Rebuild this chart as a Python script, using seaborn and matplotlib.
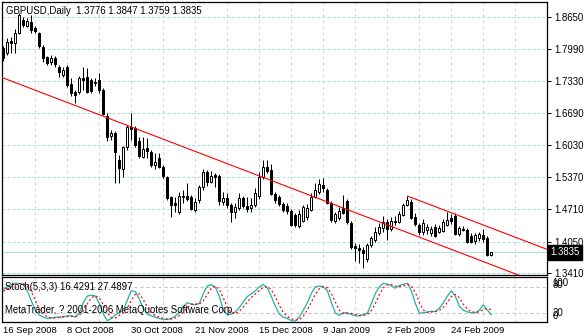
import numpy as np
import pandas as pd
import matplotlib
matplotlib.use("Agg")
import matplotlib.pyplot as plt
import matplotlib.transforms as mtransforms
import seaborn as sns

# ---------------------------------------------------------------- data
symbol_title = "GBPUSD,Daily"
copyright_text = "MetaTrader, ? 2001-2006 MetaQuotes Software Corp."
stoch_name = "Stoch(5,3,3)"

date_labels = ["16 Sep 2008", "8 Oct 2008", "30 Oct 2008", "21 Nov 2008",
               "15 Dec 2008", "9 Jan 2009", "2 Feb 2009", "24 Feb 2009"]
date_label_bars = [0, 16, 32, 48, 64, 80, 96, 112]

price_ticks = [1.8650, 1.7990, 1.7330, 1.6690, 1.6030, 1.5370, 1.4710, 1.4050, 1.3410]
price_tick_labels = ["1.8650", "1.7990", "1.7330", "1.6690", "1.6030",
                     "1.5370", "1.4710", "1.4050", "1.3410"]

open_ = [1.8015, 1.7913, 1.8159, 1.8118, 1.8322, 1.8589, 1.8466, 1.8548, 1.8425, 1.8322,
         1.8036, 1.7831, 1.7729, 1.7811, 1.7627, 1.7463, 1.7627, 1.7279, 1.7115, 1.7115,
         1.7401, 1.7422, 1.7360, 1.7319, 1.7360, 1.7156, 1.6623, 1.6214, 1.6275, 1.5723,
         1.5539, 1.5989, 1.6398, 1.6378, 1.6112, 1.5784, 1.5968, 1.5887, 1.5620, 1.5764,
         1.5579, 1.5375, 1.4965, 1.4843, 1.4658, 1.4965, 1.4986, 1.4965, 1.4699, 1.4904,
         1.5170, 1.5477, 1.5273, 1.5416, 1.5395, 1.4863, 1.4945, 1.4802, 1.4658, 1.4740,
         1.4945, 1.4781, 1.4740, 1.4802, 1.4986, 1.5375, 1.5579, 1.5518, 1.5027, 1.4965,
         1.4822, 1.4781, 1.4679, 1.4597, 1.4372, 1.4474, 1.4556, 1.4699, 1.4965, 1.5068,
         1.5211, 1.5109, 1.4843, 1.4474, 1.4536, 1.4740, 1.4884, 1.4433, 1.3962, 1.3921,
         1.3880, 1.3696, 1.3983, 1.4085, 1.4228, 1.4331, 1.4454, 1.4310, 1.4474, 1.4454,
         1.4597, 1.4802, 1.4863, 1.4556, 1.4392, 1.4249, 1.4290, 1.4228, 1.4351, 1.4249,
         1.4269, 1.4392, 1.4536, 1.4576, 1.4208, 1.4310, 1.4290, 1.4167, 1.4065, 1.4126,
         1.4188, 1.4126, 1.3776]
high = [1.8056, 1.8220, 1.8241, 1.8404, 1.8732, 1.8650, 1.8630, 1.8691, 1.8466, 1.8343,
        1.8077, 1.7852, 1.7872, 1.7852, 1.7668, 1.7627, 1.7668, 1.7401, 1.7156, 1.7442,
        1.7627, 1.7606, 1.7401, 1.7401, 1.7504, 1.7197, 1.6685, 1.6337, 1.6316, 1.5825,
        1.6009, 1.6439, 1.6685, 1.6419, 1.6194, 1.6194, 1.6173, 1.5928, 1.5866, 1.5866,
        1.5620, 1.5395, 1.4986, 1.4965, 1.5068, 1.5109, 1.5252, 1.5006, 1.4945, 1.5211,
        1.5539, 1.5518, 1.5498, 1.5457, 1.5436, 1.5068, 1.5047, 1.4843, 1.4843, 1.5047,
        1.4986, 1.4965, 1.4945, 1.5150, 1.5477, 1.5723, 1.5723, 1.5641, 1.5068, 1.5006,
        1.4863, 1.4843, 1.4720, 1.4638, 1.4699, 1.4802, 1.4822, 1.5047, 1.5252, 1.5334,
        1.5354, 1.5150, 1.4884, 1.4658, 1.4761, 1.5006, 1.4925, 1.4474, 1.4024, 1.4003,
        1.3942, 1.4024, 1.4167, 1.4351, 1.4433, 1.4576, 1.4515, 1.4556, 1.4576, 1.4679,
        1.4843, 1.4986, 1.4925, 1.4638, 1.4433, 1.4515, 1.4413, 1.4372, 1.4413, 1.4392,
        1.4515, 1.4658, 1.4617, 1.4638, 1.4372, 1.4372, 1.4331, 1.4228, 1.4228, 1.4249,
        1.4310, 1.4167, 1.3847]
low = [1.7749, 1.7872, 1.7913, 1.7913, 1.8302, 1.8445, 1.8445, 1.8322, 1.8322, 1.8015,
       1.7729, 1.7668, 1.7668, 1.7627, 1.7422, 1.7422, 1.7217, 1.7033, 1.6890, 1.7074,
       1.7156, 1.7094, 1.7094, 1.7238, 1.7094, 1.6644, 1.6112, 1.6132, 1.5252, 1.5252,
       1.5375, 1.5928, 1.6132, 1.5989, 1.5764, 1.5764, 1.5764, 1.5579, 1.5539, 1.5559,
       1.5354, 1.4904, 1.4556, 1.4658, 1.4617, 1.4843, 1.4884, 1.4699, 1.4658, 1.4843,
       1.5109, 1.5191, 1.5252, 1.5170, 1.4802, 1.4802, 1.4740, 1.4454, 1.4536, 1.4699,
       1.4740, 1.4658, 1.4658, 1.4761, 1.4925, 1.5334, 1.5457, 1.5006, 1.4843, 1.4781,
       1.4658, 1.4617, 1.4372, 1.4351, 1.4331, 1.4454, 1.4495, 1.4679, 1.4945, 1.5027,
       1.5068, 1.4822, 1.4454, 1.4433, 1.4495, 1.4617, 1.4413, 1.3901, 1.3655, 1.3614,
       1.3512, 1.3635, 1.3942, 1.4044, 1.4188, 1.4249, 1.4085, 1.4269, 1.4392, 1.4433,
       1.4576, 1.4781, 1.4515, 1.4372, 1.4188, 1.4188, 1.4208, 1.4167, 1.4147, 1.4228,
       1.4249, 1.4372, 1.4413, 1.4188, 1.4167, 1.4269, 1.4024, 1.4024, 1.4003, 1.4065,
       1.4044, 1.3757, 1.3759]
close = [1.7811, 1.8138, 1.8118, 1.8322, 1.8691, 1.8486, 1.8568, 1.8384, 1.8363, 1.8056,
         1.7811, 1.7708, 1.7811, 1.7688, 1.7524, 1.7565, 1.7258, 1.7094, 1.7053, 1.7401,
         1.7360, 1.7115, 1.7135, 1.7299, 1.7156, 1.6665, 1.6194, 1.6275, 1.5887, 1.5559,
         1.5989, 1.6398, 1.6357, 1.6030, 1.5805, 1.5948, 1.5907, 1.5620, 1.5682, 1.5579,
         1.5395, 1.4945, 1.4802, 1.4802, 1.4986, 1.4986, 1.4925, 1.4720, 1.4863, 1.5170,
         1.5477, 1.5273, 1.5395, 1.5375, 1.4884, 1.4945, 1.4802, 1.4658, 1.4761, 1.4945,
         1.4781, 1.4720, 1.4802, 1.5047, 1.5375, 1.5579, 1.5498, 1.5027, 1.4904, 1.4822,
         1.4699, 1.4679, 1.4392, 1.4392, 1.4617, 1.4761, 1.4740, 1.4965, 1.5109, 1.5232,
         1.5150, 1.4843, 1.4495, 1.4617, 1.4679, 1.4638, 1.4454, 1.3942, 1.3921, 1.3880,
         1.3819, 1.3983, 1.4126, 1.4249, 1.4351, 1.4454, 1.4310, 1.4474, 1.4454, 1.4617,
         1.4802, 1.4904, 1.4536, 1.4413, 1.4249, 1.4433, 1.4351, 1.4310, 1.4167, 1.4331,
         1.4454, 1.4495, 1.4474, 1.4208, 1.4331, 1.4290, 1.4044, 1.4044, 1.4188, 1.4208,
         1.4106, 1.3778, 1.3835]

stoch_main = [74, 80, 85, 88, 88, 86, 71, 48, 27, 16,
              11, 8, 9, 11, 11, 12, 14, 14, 11, 21,
              44, 59, 61, 59, 42, 18, 3, 8, 16, 21,
              27, 50, 71, 69, 52, 31, 18, 14, 11, 8,
              6, 6, 8, 14, 21, 35, 44, 41, 39, 42,
              65, 82, 85, 79, 58, 27, 16, 18, 23, 33,
              46, 58, 64, 71, 80, 85, 77, 58, 36, 18,
              11, 8, 3, 2, 12, 27, 44, 65, 80, 82,
              80, 71, 44, 21, 15, 21, 21, 17, 14, 14,
              17, 20, 42, 65, 80, 88, 86, 82, 77, 83,
              86, 88, 71, 42, 20, 21, 23, 24, 24, 31,
              44, 59, 71, 58, 36, 27, 23, 21, 21, 27,
              39, 27, 16.4291]
stoch_signal = [70, 75, 79.7, 84.3, 87, 87.3, 81.7, 68.3, 48.7, 30.3,
                18, 11.7, 9.3, 9.3, 10.3, 11.3, 12.3, 13.3, 13, 15.3,
                25.3, 41.3, 54.7, 59.7, 54, 39.7, 21, 9.7, 9, 15,
                21.3, 32.7, 49.3, 63.3, 64, 50.7, 33.7, 21, 14.3, 11,
                8.3, 6.7, 6.7, 9.3, 14.3, 23.3, 33.3, 40, 41.3, 40.7,
                48.7, 63, 77.3, 82, 74, 54.7, 33.7, 20.3, 19, 24.7,
                34, 45.7, 56, 64.3, 71.7, 78.7, 80.7, 73.3, 57, 37.3,
                21.7, 12.3, 7.3, 4.3, 5.7, 13.7, 27.7, 45.3, 63, 75.7,
                80.7, 77.7, 65, 45.3, 26.7, 19, 19, 19.7, 17.3, 15,
                15, 17, 26.3, 42.3, 62.3, 77.7, 84.7, 85.3, 81.7, 80.7,
                82, 85.7, 81.7, 67, 44.3, 27.7, 21.3, 22.7, 23.7, 26.3,
                33, 44.7, 58, 62.7, 55, 40.3, 28.7, 23.7, 21.7, 23,
                29, 31, 27.4897]
stoch_levels = [20, 80]

# trend lines: (bar, price) anchor pairs
trend_lower = [(0, 1.7401), (122, 1.3580)]
trend_upper = [(101, 1.4986), (122, 1.4329)]

# ---------------------------------------------------------------- style
sns.set_style("white")
plt.rcParams["font.family"] = ["Liberation Sans", "DejaVu Sans"]
plt.rcParams["lines.scale_dashes"] = True

W, H = 584, 336
fig = plt.figure(figsize=(W / 100, H / 100), dpi=100, facecolor="white")

def px_axes(x0, y0, x1, y1):
    return fig.add_axes([x0 / W, 1 - y1 / H, (x1 - x0) / W, (y1 - y0) / H])

ax = px_axes(2, 2, 547, 275)
ax2 = px_axes(2, 277, 547, 322)

n = len(close)
bars = np.arange(n)
df = pd.DataFrame({"bar": bars, "open": open_, "high": high, "low": low,
                   "close": close, "main": stoch_main, "signal": stoch_signal})

xmin, xmax = -0.33, 135.9
px = 0.72  # one pixel in points
grid_bars = np.arange(8, 136, 8)

for a in (ax, ax2):
    a.set_xlim(xmin, xmax)
    for s in a.spines.values():
        s.set_color("black")
        s.set_linewidth(0.9)
    a.set_facecolor("white")

# ---------------------------------------------------------------- price panel
ax.set_ylim(1.3369, 1.8957)
ax.set_xticks(grid_bars)
ax.tick_params(axis="x", length=0, labelbottom=False)
ax.yaxis.tick_right()
ax.set_yticks(price_ticks)
ax.set_yticklabels(price_tick_labels)
ax.tick_params(axis="y", length=3, width=px, pad=2, labelsize=6.9, colors="black")
ax.xaxis.grid(True, color="#d4d4d4", linestyle=(0, (3, 3)), linewidth=px)
ax.yaxis.grid(True, color="#a9dede", linestyle=(0, (3, 2)), linewidth=px)
ax.set_axisbelow(True)

# last-price line
ax.axhline(df["close"].iloc[-1], color="#a6e3e3", linewidth=px, zorder=1)

# candles
bull = df["close"] >= df["open"]
body_lo = np.minimum(df["open"], df["close"])
body_h = np.maximum(np.abs(df["close"] - df["open"]), 0.0004)
ax.vlines(df["bar"], df["low"], df["high"], color="black", linewidth=px, zorder=2)
ax.bar(df["bar"], body_h, bottom=body_lo, width=0.5,
       color=np.where(bull, "white", "black"), edgecolor="black",
       linewidth=px, zorder=3)

# trend channel
def ray(anchors, x_from, x_to):
    (b0, p0), (b1, p1) = anchors
    slope = (p1 - p0) / (b1 - b0)
    xs = np.array([x_from, x_to])
    return xs, p0 + slope * (xs - b0)

xs, ys = ray(trend_lower, xmin, xmax)
ax.plot(xs, ys, color="#ff0000", linewidth=0.8, zorder=4)
xs, ys = ray(trend_upper, trend_upper[0][0], xmax)
ax.plot(xs, ys, color="#ff0000", linewidth=0.8, zorder=4)

# header with last bar OHLC
ax.text(4 / 545, 1 - 9 / 273,
        f"{symbol_title}  {open_[-1]:.4f} {high[-1]:.4f} {low[-1]:.4f} {close[-1]:.4f}",
        transform=ax.transAxes, ha="left", va="center", fontsize=6.9, color="black")

# last-price marker box on the scale
trans = mtransforms.blended_transform_factory(ax.transAxes, ax.transData)
ax.text(1.006, close[-1], f"{close[-1]:.4f}", transform=trans, ha="left", va="center",
        fontsize=6.9, color="white", clip_on=False,
        bbox=dict(boxstyle="square,pad=0.25", facecolor="black", edgecolor="black"))

# ---------------------------------------------------------------- stochastic panel
ax2.set_ylim(0, 102.3)
sns.lineplot(data=df, x="bar", y="main", ax=ax2, color="#20b2aa", linewidth=0.9,
             zorder=3)
sns.lineplot(data=df, x="bar", y="signal", ax=ax2, color="#ff0000", linewidth=0.9,
             linestyle=(0, (1.5, 2)), zorder=4)
ax2.set_xlabel("")
ax2.set_ylabel("")
for lv in stoch_levels:
    ax2.axhline(lv, color="#c0c0c0", linestyle=(0, (3, 3)), linewidth=px, zorder=1)
ax2.set_xticks(date_label_bars)
ax2.set_xticklabels(date_labels, ha="left")
ax2.set_xticks(grid_bars, minor=True)
ax2.tick_params(axis="x", which="major", length=2, width=px, pad=0.8,
                labelsize=6.8, colors="black")
ax2.tick_params(axis="x", which="minor", length=0)
ax2.xaxis.grid(True, which="minor", color="#d4d4d4", linestyle=(0, (3, 3)),
               linewidth=px)
ax2.set_yticks([])
ax2.set_axisbelow(True)

ax2.text(3 / 545, 1 - 10 / 45, f"{stoch_name} {stoch_main[-1]:.4f} {stoch_signal[-1]:.4f}",
         transform=ax2.transAxes, ha="left", va="center", fontsize=6.9, color="black")
ax2.text(3 / 545, 1 - 33 / 45, copyright_text, transform=ax2.transAxes,
         ha="left", va="center", fontsize=6.9, color="black")

# oscillator scale labels, stacked tightly beside the panel
osc_trans = mtransforms.blended_transform_factory(ax2.transAxes, ax2.transData)
for txt, val in (("100", 89), ("80", 83.5), ("20", 20.5), ("0", 14)):
    ax2.text(1.0095, val, txt, transform=osc_trans, ha="left", va="center",
             fontsize=6.9, color="black", clip_on=False)

fig.savefig("out.png", dpi=100, facecolor="white")
